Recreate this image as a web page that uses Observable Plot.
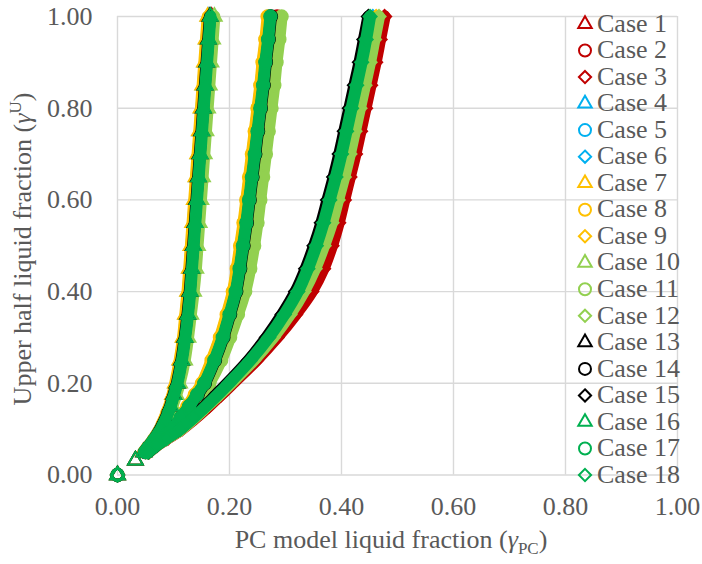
<!DOCTYPE html>
<html><head><meta charset="utf-8">
<script src="https://cdn.jsdelivr.net/npm/d3@7"></script>
<script src="https://cdn.jsdelivr.net/npm/@observablehq/plot@0.6"></script>
<style>body{margin:0;background:#fff;} svg text{font-family:'Liberation Serif','Times New Roman',serif;}</style>
</head><body><div id="chart"></div>
<script>
const caseNames = ["Case 1","Case 2","Case 3","Case 4","Case 5","Case 6","Case 7","Case 8","Case 9",
  "Case 10","Case 11","Case 12","Case 13","Case 14","Case 15","Case 16","Case 17","Case 18"];
const caseColors = ["#C00000","#C00000","#C00000","#00B0F0","#00B0F0","#00B0F0","#FFC000","#FFC000","#FFC000",
  "#92D050","#92D050","#92D050","#000000","#000000","#000000","#00B050","#00B050","#00B050"];
const caseSymbols = ["triangle","circle","diamond2","triangle","circle","diamond2","triangle","circle","diamond2",
  "triangle","circle","diamond2","triangle","circle","diamond2","triangle","circle","diamond2"];

const xTicks = [0, 0.2, 0.4, 0.6, 0.8, 1.0];
const yTicks = [0, 0.2, 0.4, 0.6, 0.8, 1.0];

// upper-half liquid fraction levels
const yTri  = [0,0.032,0.05,0.065,0.08,0.1,0.125,0.15,0.175,0.2,0.25,0.3,0.35,0.4,0.45,0.5,0.55,0.6,0.65,0.7,0.75,0.8,0.85,0.9,0.95,1.0];
const yCirc = [0,0.05,0.065,0.08,0.1,0.125,0.15,0.175,0.2,0.25,0.3,0.35,0.4,0.45,0.5,0.55,0.6,0.65,0.7,0.75,0.8,0.85,0.9,0.95,1.0];
const yDia  = [0,0.05,0.065,0.08,0.1,0.125,0.15,0.175,0.2,0.25,0.3,0.35,0.4,0.45,0.5,0.55,0.6,0.65,0.7,0.75,0.8,0.85,0.9,0.95,1.0];

// PC model liquid fraction per case
const xCase1  = [0,0.032,0.047,0.057,0.066,0.077,0.087,0.095,0.102,0.108,0.116,0.122,0.127,0.131,0.135,0.138,0.141,0.144,0.147,0.150,0.153,0.156,0.159,0.162,0.165,0.168];
const xCase2  = [0,0.050,0.063,0.077,0.098,0.115,0.131,0.146,0.160,0.180,0.196,0.209,0.221,0.229,0.236,0.242,0.247,0.252,0.257,0.262,0.267,0.272,0.276,0.281,0.285];
const xCase3  = [0,0.056,0.071,0.090,0.115,0.140,0.163,0.185,0.206,0.248,0.285,0.318,0.347,0.368,0.383,0.395,0.405,0.415,0.425,0.434,0.443,0.452,0.461,0.469,0.477];
const xCase4  = [0,0.032,0.046,0.056,0.065,0.075,0.085,0.093,0.099,0.104,0.112,0.118,0.122,0.126,0.129,0.132,0.135,0.138,0.141,0.144,0.147,0.150,0.153,0.156,0.159,0.162];
const xCase5  = [0,0.050,0.062,0.075,0.096,0.111,0.126,0.139,0.152,0.169,0.184,0.196,0.207,0.214,0.220,0.226,0.231,0.236,0.241,0.246,0.251,0.256,0.260,0.265,0.270];
const xCase6  = [0,0.055,0.070,0.088,0.112,0.136,0.158,0.179,0.200,0.238,0.272,0.300,0.325,0.344,0.360,0.373,0.384,0.395,0.405,0.414,0.423,0.432,0.441,0.449,0.456];
const xCase7  = [0,0.032,0.046,0.056,0.065,0.075,0.084,0.092,0.098,0.103,0.111,0.117,0.121,0.125,0.128,0.131,0.134,0.137,0.140,0.143,0.146,0.149,0.152,0.155,0.158,0.161];
const xCase8  = [0,0.050,0.062,0.075,0.095,0.110,0.125,0.138,0.151,0.168,0.183,0.195,0.206,0.213,0.219,0.225,0.230,0.235,0.240,0.245,0.250,0.255,0.259,0.264,0.268];
const xCase9  = [0,0.055,0.070,0.088,0.113,0.137,0.159,0.180,0.201,0.240,0.274,0.304,0.329,0.349,0.365,0.378,0.390,0.401,0.411,0.420,0.429,0.438,0.447,0.455,0.462];
const xCase10 = [0,0.032,0.048,0.058,0.068,0.079,0.089,0.098,0.105,0.111,0.120,0.126,0.131,0.136,0.140,0.143,0.146,0.149,0.152,0.155,0.158,0.161,0.164,0.167,0.170,0.173];
const xCase11 = [0,0.051,0.064,0.078,0.100,0.118,0.134,0.150,0.164,0.185,0.201,0.215,0.228,0.237,0.244,0.250,0.255,0.260,0.265,0.270,0.275,0.280,0.284,0.289,0.293];
const xCase12 = [0,0.056,0.071,0.089,0.114,0.138,0.160,0.182,0.203,0.243,0.278,0.308,0.333,0.353,0.369,0.383,0.394,0.405,0.415,0.424,0.433,0.442,0.451,0.459,0.467];
const xCase13 = [0,0.032,0.047,0.057,0.066,0.076,0.086,0.094,0.100,0.106,0.114,0.120,0.125,0.129,0.132,0.135,0.138,0.141,0.144,0.147,0.150,0.153,0.156,0.159,0.162,0.165];
const xCase14 = [0,0.050,0.063,0.077,0.098,0.114,0.129,0.143,0.156,0.174,0.189,0.201,0.212,0.219,0.225,0.231,0.236,0.241,0.246,0.251,0.256,0.261,0.265,0.270,0.274];
const xCase15 = [0,0.055,0.070,0.087,0.111,0.134,0.156,0.176,0.196,0.234,0.266,0.294,0.318,0.336,0.351,0.364,0.375,0.386,0.396,0.405,0.414,0.423,0.432,0.440,0.448];
const xCase16 = [0,0.032,0.047,0.057,0.066,0.077,0.087,0.095,0.101,0.107,0.115,0.121,0.126,0.130,0.133,0.136,0.139,0.142,0.145,0.148,0.151,0.154,0.157,0.160,0.163,0.166];
const xCase17 = [0,0.050,0.063,0.076,0.097,0.113,0.128,0.142,0.155,0.173,0.188,0.200,0.211,0.218,0.224,0.230,0.235,0.240,0.245,0.250,0.255,0.260,0.264,0.269,0.273];
const xCase18 = [0,0.055,0.070,0.088,0.112,0.136,0.158,0.179,0.199,0.237,0.270,0.298,0.322,0.340,0.355,0.368,0.379,0.390,0.400,0.409,0.418,0.427,0.436,0.444,0.451];

const xCases = [xCase1,xCase2,xCase3,xCase4,xCase5,xCase6,xCase7,xCase8,xCase9,xCase10,xCase11,xCase12,xCase13,xCase14,xCase15,xCase16,xCase17,xCase18];
const yBySymbol = {triangle: yTri, circle: yCirc, diamond2: yDia};
const rBySymbol = {triangle: 5.5, circle: 6.3, diamond2: 6};
const rLegend = {triangle: 5, circle: 6, diamond2: 5.5};
const d3Sym = {triangle: d3.symbolTriangle, circle: d3.symbolCircle, diamond2: d3.symbolDiamond2};
const FONT = "'Liberation Serif','Times New Roman',serif";

const series = caseNames.map((name, i) => {
  const ys = yBySymbol[caseSymbols[i]];
  const xs = xCases[i];
  const n = Math.min(xs.length, ys.length);
  const pts = [];
  for (let k = 0; k < n; k++) pts.push({x: xs[k], y: ys[k], case: name});
  return {name, color: caseColors[i], symbol: caseSymbols[i], pts};
});

const fmt = d3.format(".2f");
const chart = Plot.plot({
  width: 702, height: 564,
  marginLeft: 117, marginRight: 25, marginTop: 16, marginBottom: 89.5,
  style: {fontFamily: FONT, fontSize: "26px", color: "#595959", background: "#fff"},
  x: {domain: [0, 1]},
  y: {domain: [0, 1]},
  marks: [
    Plot.gridX(xTicks, {stroke: "#d9d9d9", strokeOpacity: 1, strokeWidth: 1.4}),
    Plot.gridY(yTicks, {stroke: "#d9d9d9", strokeOpacity: 1, strokeWidth: 1.4}),
    Plot.axisX(xTicks, {tickSize: 0, tickPadding: 21.5, tickFormat: fmt, label: null, fill: "#595959", fontFamily: FONT, fontSize: 26}),
    Plot.axisY(yTicks, {tickSize: 0, tickPadding: 25, tickFormat: fmt, label: null, fill: "#595959", fontFamily: FONT, fontSize: 26}),
    ...series.flatMap(s => [
      Plot.line(s.pts.filter(d => d.y >= 0.05), {
        x: "x", y: "y", stroke: s.color, strokeWidth: 12, curve: "catmull-rom",
        strokeLinecap: "round", strokeLinejoin: "round"}),
      Plot.dot(s.pts, {
        x: "x", y: "y", symbol: s.symbol, r: rBySymbol[s.symbol],
        stroke: s.color, fill: "none", strokeWidth: 1.8})
    ])
  ]
});
document.getElementById("chart").appendChild(chart);

const svg = d3.select(chart);
// legend
const lg = svg.append("g");
series.forEach((s, i) => {
  const cy = 24 + i * 26.53;
  const r = rLegend[s.symbol];
  lg.append("path")
    .attr("transform", `translate(585,${cy})`)
    .attr("d", d3.symbol(d3Sym[s.symbol], Math.PI * r * r)())
    .attr("fill", "none").attr("stroke", s.color).attr("stroke-width", 2);
  lg.append("text").attr("x", 597).attr("y", cy + 7.7).attr("text-anchor", "start")
    .attr("font-family", FONT).attr("fill", "#595959").attr("font-size", 26).text(s.name);
});
// x title
const xt = svg.append("text").attr("x", 391).attr("y", 548).attr("text-anchor", "middle")
  .attr("font-family", FONT).attr("fill", "#595959").attr("font-size", 26);
xt.append("tspan").text("PC model liquid fraction (");
xt.append("tspan").attr("font-style", "italic").text("γ");
xt.append("tspan").attr("font-size", 17).attr("dy", 6).text("PC");
xt.append("tspan").attr("dy", -6).text(")");
// y title
const yt = svg.append("text").attr("transform", "translate(31,249) rotate(-90)").attr("text-anchor", "middle")
  .attr("font-family", FONT).attr("fill", "#595959").attr("font-size", 26);
yt.append("tspan").text("Upper half liquid fraction (");
yt.append("tspan").attr("font-style", "italic").text("γ");
yt.append("tspan").attr("font-size", 17).attr("dy", -10).text("U");
yt.append("tspan").attr("dy", 10).text(")");
</script>
</body></html>
